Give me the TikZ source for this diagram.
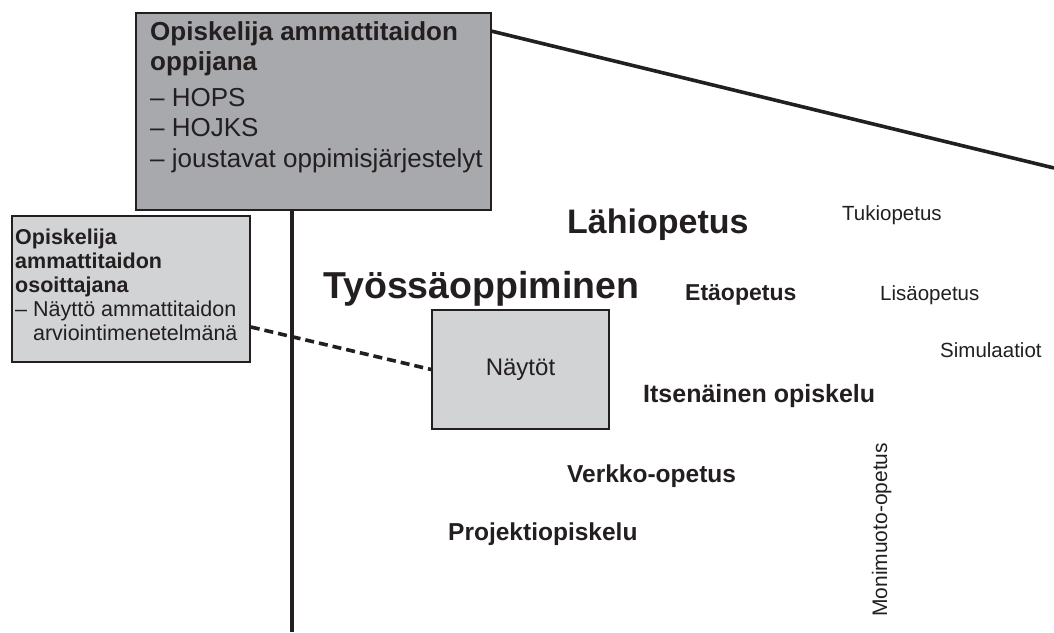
\documentclass[tikz,border=0pt]{standalone}
\usepackage{fontspec}
\setmainfont{Liberation Sans}
\usetikzlibrary{positioning}
\definecolor{ink}{HTML}{231F20}
\definecolor{boxdark}{HTML}{A7A9AC}
\definecolor{boxlight}{HTML}{D1D3D4}

\begin{document}
\begin{tikzpicture}[x=1pt, y=-1pt,
	darkbox/.style={draw=ink, line width=1.6pt, fill=boxdark, inner sep=0pt},
	lightbox/.style={draw=ink, line width=1.6pt, fill=boxlight, inner sep=0pt},
	boxtext/.style={anchor=north west, align=left, inner sep=0pt, text=ink},
	word/.style={anchor=base west, inner sep=0pt, text=ink},
	axisline/.style={draw=ink, line width=3.6pt},
	dashline/.style={draw=ink, line width=3.6pt, dash pattern=on 9pt off 5pt}]
	\useasboundingbox (0,0) rectangle (1054,632);
	% Boxes and their texts:
	\node[darkbox, minimum width=355pt, minimum height=197pt] (oppija) at (313.5,111.5) {};
	\node[boxtext, font=\fontsize{26}{30.5}\selectfont] (oppijatxt) at (150,21) {\textbf{Opiskelija ammattitaidon}\\\textbf{oppijana}\\[5pt]– HOPS\\– HOJKS\\– joustavat oppimisjärjestelyt};
	\node[lightbox, minimum width=238pt, minimum height=146pt] (osoittaja) at (131,289) {};
	\node[boxtext, font=\fontsize{21.5}{24}\selectfont] (osoittajatxt) at (15,229) {\textbf{Opiskelija}\\\textbf{ammattitaidon}\\\textbf{osoittajana}\\– Näyttö ammattitaidon\\\phantom{– }arviointimenetelmänä};
	\node[lightbox, minimum width=177pt, minimum height=119pt, text=ink, font=\fontsize{24}{28}\selectfont] (naytot) at (520.5,369.5) {\raisebox{4pt}{Näytöt}};
	% Axes and connectors:
	\coordinate (axisbot) at (292,632);
	\coordinate (slopeend) at (1054,168);
	\draw[axisline] (axisbot |- oppija.south) -- (axisbot);
	\draw[axisline] ([yshift=-19pt]oppija.north east) -- (slopeend);
	\draw[dashline] ([yshift=-38pt]osoittaja.east) -- (naytot.west);
	% Forms of teaching:
	\node[word, font=\bfseries\fontsize{34}{40}\selectfont] (lahi) at (567,233) {Lähiopetus};
	\node[word, font=\bfseries\fontsize{37.5}{44}\selectfont] (tyossa) at (323,298) {Työssäoppiminen};
	\node[word, font=\bfseries\fontsize{23}{28}\selectfont] (eta) at (685,300) {Etäopetus};
	\node[word, font=\fontsize{20.5}{24}\selectfont] (tuki) at (842,220) {Tukiopetus};
	\node[word, font=\fontsize{20.5}{24}\selectfont] (lisa) at (880,300) {Lisäopetus};
	\node[word, font=\fontsize{20.5}{24}\selectfont] (simu) at (940,357) {Simulaatiot};
	\node[word, font=\bfseries\fontsize{25}{30}\selectfont] (itse) at (643,402) {Itsenäinen opiskelu};
	\node[word, font=\bfseries\fontsize{24.5}{30}\selectfont] (verkko) at (567,482) {Verkko-opetus};
	\node[word, font=\bfseries\fontsize{24.5}{30}\selectfont] (projekti) at (448,540) {Projektiopiskelu};
	\node[word, rotate=90, font=\fontsize{21}{24}\selectfont] (moni) at (887,617) {Monimuoto-opetus};
\end{tikzpicture}
\end{document}
